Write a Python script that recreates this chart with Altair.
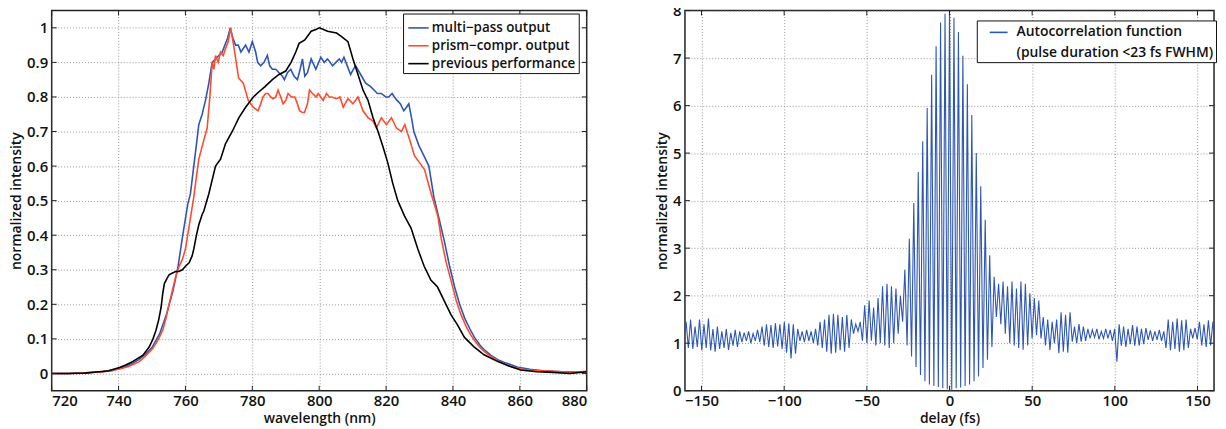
import altair as alt
import pandas as pd

# ---------------- left panel: spectra ----------------
series_names = ["multi−pass output", "prism−compr. output", "previous performance"]
series_colors = ["#2d56b5", "#ff4b2f", "#000000"]

blue_wl = [720, 725, 730, 735, 738, 740.3, 742, 744.3, 746, 748.3, 750, 752.3, 754.3, 756.3, 757.8,
           759.2, 760.7, 761.5, 762.5, 764, 765, 766, 767, 768, 769, 770, 771, 771.8, 772.6, 773.4,
           774.2, 775, 775.8, 776.6, 777.3, 778, 779, 780, 781, 781.6, 782.5, 783.5, 784.5, 785.2,
           786, 787, 788, 789, 789.6, 790.5, 791.5, 792.5, 793.5, 794.3, 795, 795.7, 796.5, 797.6,
           799, 800.5, 801.5, 802.5, 803.3, 804, 805, 806, 806.7, 807.4, 808.4, 809.4, 810.2, 810.9,
           812.4, 813.9, 815.4, 816.4, 817.4, 818.6, 819.9, 820.8, 821.8, 822.5, 823.3, 824.3, 825.3,
           826.1, 826.8, 827.6, 828.3, 829.8, 831.3, 832.8, 834.3, 835.8, 837.5, 839, 840.5, 842,
           843.5, 845, 846.4, 848, 849.4, 851.4, 853.4, 855.4, 857.4, 859.4, 861.3, 863, 865, 867,
           870, 873, 876, 880]
blue_val = [0.0, 0.0, 0.002, 0.005, 0.008, 0.015, 0.02, 0.03, 0.04, 0.058, 0.075, 0.115, 0.17, 0.24, 0.31,
            0.40, 0.49, 0.52, 0.60, 0.72, 0.75, 0.79, 0.84, 0.90, 0.91, 0.92, 0.93, 0.95, 0.97, 1.0,
            0.97, 0.95, 0.95, 0.93, 0.94, 0.95, 0.93, 0.96, 0.93, 0.90, 0.89, 0.90, 0.92, 0.89,
            0.88, 0.88, 0.87, 0.86, 0.85, 0.87, 0.88, 0.86, 0.85, 0.88, 0.91, 0.86, 0.87, 0.91,
            0.88, 0.915, 0.90, 0.91, 0.90, 0.89, 0.90, 0.91, 0.90, 0.915, 0.89, 0.865, 0.88, 0.89,
            0.865, 0.84, 0.83, 0.82, 0.81, 0.81, 0.80, 0.80, 0.81, 0.80, 0.79, 0.78, 0.76,
            0.77, 0.78, 0.74, 0.70, 0.66, 0.63, 0.60, 0.51, 0.45, 0.38, 0.31, 0.25, 0.20,
            0.16, 0.13, 0.105, 0.083, 0.068, 0.052, 0.04, 0.032, 0.025, 0.018, 0.015, 0.012, 0.01, 0.008,
            0.006, 0.005, 0.004, 0.005]

red_wl = [720, 725, 730, 735, 740.3, 743, 746.2, 748, 750.2, 752, 753.2, 754.2, 755.1, 756.1, 757.1,
          758.1, 759.1, 760, 761, 761.5, 762.5, 763.3, 764, 765.5, 766.5, 767.3, 768, 768.5, 769,
          769.8, 770.5, 771.3, 772, 772.8, 773.5, 774.4, 775.2, 775.9, 777.3, 778.8, 780.3, 781.7,
          782.5, 783.2, 784, 784.7, 785.5, 786.2, 787, 787.7, 788.5, 789.2, 790, 790.7, 791.7,
          792.7, 793.5, 794.1, 795, 795.6, 796.5, 797.1, 798, 799.1, 799.7, 801.2, 802.2, 803,
          803.7, 805.2, 806.2, 807.2, 808.6, 810.1, 811.6, 813.1, 814.6, 816.1, 817.1, 818.6,
          820.1, 821.6, 823.1, 824.6, 825.6, 827.1, 828.5, 830, 831.5, 833.5, 835.5, 836.5, 838,
          839.4, 841, 842.4, 844, 845.4, 847, 848.4, 850.4, 852.4, 854.4, 856.3, 858.3, 860.3,
          863, 866, 870, 874, 877, 880]
red_val = [0.0, 0.0, 0.002, 0.004, 0.013, 0.02, 0.034, 0.05, 0.072, 0.10, 0.125, 0.16, 0.20, 0.24, 0.28,
           0.31, 0.33, 0.36, 0.42, 0.45, 0.51, 0.57, 0.62, 0.675, 0.71, 0.80, 0.90, 0.88, 0.92,
           0.90, 0.93, 0.92, 0.94, 0.96, 1.0, 0.95, 0.90, 0.855, 0.84, 0.79, 0.77, 0.76,
           0.78, 0.80, 0.81, 0.81, 0.80, 0.795, 0.80, 0.82, 0.80, 0.78, 0.79, 0.81, 0.80,
           0.80, 0.78, 0.76, 0.755, 0.755, 0.78, 0.82, 0.81, 0.80, 0.81, 0.79, 0.81, 0.80,
           0.80, 0.795, 0.80, 0.77, 0.795, 0.78, 0.80, 0.76, 0.74, 0.73, 0.71, 0.74,
           0.72, 0.74, 0.71, 0.70, 0.72, 0.675, 0.63, 0.61, 0.59, 0.52, 0.455, 0.39, 0.32,
           0.27, 0.21, 0.17, 0.135, 0.11, 0.088, 0.072, 0.055, 0.043, 0.032, 0.023, 0.017, 0.013,
           0.01, 0.008, 0.006, 0.004, 0.003, 0.006]

black_wl = [720, 725, 730, 734.3, 737, 740.3, 742.3, 744.3, 746, 747.3, 749.2, 750.3, 751.2, 752, 752.7,
            753.2, 753.7, 754.5, 755.1, 756, 757.1, 758, 759.1, 760, 761.1, 762, 762.5, 763.3, 764,
            765, 765.5, 767, 768, 769, 770.5, 772, 774, 776, 778, 780.3, 782, 783.8, 786, 788, 790,
            791.6, 793, 794, 795.7, 797.6, 799, 800.1, 802.5, 805.2, 806.6, 808.6, 810.1, 811.6,
            813.1, 814.6, 816.1, 817.6, 819.1, 820.5, 822, 823.5, 825.5, 827.5, 829.5, 831.4, 833.4,
            835.4, 837.4, 839.4, 841.4, 843.4, 846.3, 849.3, 853.3, 857.2, 860.2, 865, 870, 875, 880]
black_val = [0.0, 0.0, 0.001, 0.005, 0.008, 0.017, 0.025, 0.035, 0.045, 0.053, 0.077, 0.10, 0.125, 0.155, 0.19,
             0.23, 0.26, 0.275, 0.285, 0.29, 0.295, 0.295, 0.30, 0.31, 0.32, 0.34, 0.36, 0.40, 0.43,
             0.46, 0.47, 0.52, 0.56, 0.60, 0.62, 0.665, 0.70, 0.74, 0.77, 0.80, 0.815, 0.83, 0.85, 0.865, 0.875,
             0.90, 0.93, 0.955, 0.965, 0.99, 0.995, 1.0, 0.99, 0.985, 0.975, 0.96, 0.91, 0.865,
             0.82, 0.79, 0.74, 0.70, 0.655, 0.61, 0.55, 0.50, 0.456, 0.42, 0.36, 0.31, 0.27,
             0.25, 0.21, 0.17, 0.14, 0.105, 0.077, 0.054, 0.035, 0.02, 0.01, 0.005, 0.003, 0.0, 0.005]

wl_ticks = [720, 740, 760, 780, 800, 820, 840, 860, 880]
int_ticks = [0, 0.1, 0.2, 0.3, 0.4, 0.5, 0.6, 0.7, 0.8, 0.9, 1]

# ---------------- right panel: autocorrelation ----------------
ac_names = ["Autocorrelation function", "(pulse duration <23 fs FWHM)"]
ac_colors = ["#2d56b5", "rgba(0,0,0,0)"]

delay_fs = [
    -160.65, -159.3, -157.95, -156.6, -155.25, -153.9, -152.55, -151.2, -149.85, -148.5,
    -147.15, -145.8, -144.45, -143.1, -141.75, -140.4, -139.05, -137.7, -136.35, -135.0,
    -133.65, -132.3, -130.95, -129.6, -128.25, -126.9, -125.55, -124.2, -122.85, -121.5,
    -120.15, -118.8, -117.45, -116.1, -114.75, -113.4, -112.05, -110.7, -109.35, -108.0,
    -106.65, -105.3, -103.95, -102.6, -101.25, -99.9, -98.55, -97.2, -95.85, -94.5,
    -93.15, -91.8, -90.45, -89.1, -87.75, -86.4, -85.05, -83.7, -82.35, -81.0,
    -79.65, -78.3, -76.95, -75.6, -74.25, -72.9, -71.55, -70.2, -68.85, -67.5,
    -66.15, -64.8, -63.45, -62.1, -60.75, -59.4, -58.05, -56.7, -55.35, -54.0,
    -52.65, -51.3, -49.95, -48.6, -47.25, -45.9, -44.55, -43.2, -41.85, -40.5,
    -39.15, -37.8, -36.45, -35.1, -33.75, -32.4, -31.05, -29.7, -28.35, -27.0,
    -25.65, -24.3, -22.95, -21.6, -20.25, -18.9, -17.55, -16.2, -14.85, -13.5,
    -12.15, -10.8, -9.45, -8.1, -6.75, -5.4, -4.05, -2.7, -1.35,
    0.0,
    1.35, 2.7, 4.05, 5.4, 6.75, 8.1, 9.45, 10.8, 12.15, 13.5,
    14.85, 16.2, 17.55, 18.9, 20.25, 21.6, 22.95, 24.3, 25.65, 27.0,
    28.35, 29.7, 31.05, 32.4, 33.75, 35.1, 36.45, 37.8, 39.15, 40.5,
    41.85, 43.2, 44.55, 45.9, 47.25, 48.6, 49.95, 51.3, 52.65, 54.0,
    55.35, 56.7, 58.05, 59.4, 60.75, 62.1, 63.45, 64.8, 66.15, 67.5,
    68.85, 70.2, 71.55, 72.9, 74.25, 75.6, 76.95, 78.3, 79.65, 81.0,
    82.35, 83.7, 85.05, 86.4, 87.75, 89.1, 90.45, 91.8, 93.15, 94.5,
    95.85, 97.2, 98.55, 99.9, 101.25, 102.6, 103.95, 105.3, 106.65, 108.0,
    109.35, 110.7, 112.05, 113.4, 114.75, 116.1, 117.45, 118.8, 120.15, 121.5,
    122.85, 124.2, 125.55, 126.9, 128.25, 129.6, 130.95, 132.3, 133.65, 135.0,
    136.35, 137.7, 139.05, 140.4, 141.75, 143.1, 144.45, 145.8, 147.15, 148.5,
    149.85, 151.2, 152.55, 153.9, 155.25, 156.6, 157.95, 159.3, 160.65,
]
ac_val = [
    0.95, 1.45, 0.9, 1.5, 0.88, 1.35, 0.92, 1.5, 0.85, 1.4,
    0.9, 1.52, 0.85, 1.3, 0.82, 1.35, 0.88, 1.25, 0.9, 1.3,
    0.86, 1.22, 0.95, 1.28, 0.92, 1.25, 1.02, 1.22, 1.05, 1.25,
    1.0, 1.2, 1.05, 1.28, 1.02, 1.35, 0.95, 1.4, 0.92, 1.38,
    0.9, 1.42, 0.93, 1.4, 0.88, 1.45, 0.8, 1.42, 0.68, 1.4,
    0.78, 1.3, 1.05, 1.25, 1.02, 1.28, 1.05, 1.25, 1.0, 1.3,
    0.95, 1.45, 0.9, 1.5, 0.82, 1.6, 0.78, 1.62, 0.8, 1.6,
    0.85, 1.55, 0.82, 1.6, 0.9, 1.5, 1.2, 1.4, 1.25, 1.45,
    1.05, 1.8, 1.0, 1.9, 1.05, 1.75, 0.95, 1.95, 1.0, 2.2,
    0.95, 2.25, 0.9, 2.2, 1.0, 2.15, 1.2, 2.0, 1.45, 2.55,
    0.95, 3.2, 0.72, 3.95, 0.5, 4.6, 0.33, 5.25, 0.2, 5.95,
    0.13, 6.65, 0.1, 7.25, 0.08, 7.75, 0.05, 7.93, 0.03,
    8.0,
    0.02, 7.85, 0.05, 7.55, 0.07, 7.05, 0.1, 6.45, 0.13, 5.8,
    0.2, 5.0, 0.3, 4.3, 0.48, 3.6, 0.65, 2.85, 0.92, 2.4,
    1.55, 2.25, 1.4, 2.3, 1.2, 2.2, 1.0, 2.3, 0.95, 2.15,
    0.9, 2.3, 0.86, 2.25, 0.95, 2.05, 1.1, 1.95, 1.17, 1.9,
    1.1, 1.55, 0.95, 1.5, 0.86, 1.45, 1.0, 1.5, 0.79, 1.65,
    0.82, 1.6, 0.8, 1.65, 1.03, 1.35, 1.0, 1.4, 1.03, 1.35,
    1.05, 1.3, 1.1, 1.28, 1.12, 1.3, 1.08, 1.25, 1.1, 1.3,
    1.1, 1.28, 1.05, 1.3, 0.61, 1.4, 0.95, 1.35, 0.92, 1.3,
    0.98, 1.38, 0.95, 1.35, 0.95, 1.3, 0.98, 1.32, 1.07, 1.27,
    1.05, 1.25, 1.07, 1.28, 1.05, 1.25, 0.9, 1.5, 0.85, 1.45,
    0.88, 1.52, 0.82, 1.48, 0.85, 1.5, 0.9, 1.3, 1.1, 1.32,
    1.08, 1.45, 0.95, 1.4, 0.92, 1.48, 0.95, 1.45, 0.9,
]

delay_ticks = [-150, -100, -50, 0, 50, 100, 150]
ac_ticks = [0, 1, 2, 3, 4, 5, 6, 7, 8]

assert len(delay_fs) == len(ac_val), (len(delay_fs), len(ac_val))

# ---------------- tables ----------------
rows = []
for name, wl, val in zip(series_names, [blue_wl, red_wl, black_wl], [blue_val, red_val, black_val]):
    for i, (w, v) in enumerate(zip(wl, val)):
        rows.append({"series": name, "wl": w, "val": v, "idx": i})
df_spec = pd.DataFrame(rows)
df_ac = pd.DataFrame({"delay": delay_fs, "val": ac_val, "series": ac_names[0],
                      "idx": list(range(len(delay_fs)))})

FONT = "Open Sans"
H = 383
W_L, W_R = 539, 533
TICK = 5
grid_kw = dict(grid=True, gridDash=[1, 2], gridColor="#8a8a8a", gridWidth=0.9, gridOpacity=1)
lab_kw = dict(labelFont=FONT, labelFontSize=15, labelFontWeight=600, labelColor="#111",
              titleFont=FONT, titleFontSize=14, titleFontWeight=600, titleColor="#111",
              domain=False, ticks=False)


def make_panel(main, xs, ys, xaxis, yaxis, xvals, yvals, W):
    xt = pd.DataFrame({"t": xvals})
    yt = pd.DataFrame({"t": yvals})
    base_x = alt.Chart(xt).mark_rule(color="#222", strokeWidth=1)
    base_y = alt.Chart(yt).mark_rule(color="#222", strokeWidth=1)
    layers = [
        base_x.encode(x=alt.X("t:Q", scale=xs, axis=xaxis), y=alt.value(0), y2=alt.value(TICK)),
        base_x.encode(x=alt.X("t:Q", scale=xs, axis=xaxis), y=alt.value(H - TICK), y2=alt.value(H)),
        base_y.encode(y=alt.Y("t:Q", scale=ys, axis=yaxis), x=alt.value(0), x2=alt.value(TICK)),
        base_y.encode(y=alt.Y("t:Q", scale=ys, axis=yaxis), x=alt.value(W - TICK), x2=alt.value(W)),
    ]
    return alt.layer(main, *layers).properties(width=W, height=H)


# left
xs_l = alt.Scale(domain=[720, 880], nice=False, zero=False)
ys_l = alt.Scale(domain=[-0.05, 1.05], nice=False, zero=False)
xax_l = alt.Axis(values=wl_ticks, title="wavelength (nm)", labelPadding=3, titlePadding=3,
                 **grid_kw, **lab_kw)
yax_l = alt.Axis(values=int_ticks, format="~g", title="normalized intensity",
                 labelPadding=4, titlePadding=3, **grid_kw, **lab_kw)
spec_lines = alt.Chart(df_spec).mark_line(strokeWidth=1.6, clip=True).encode(
    x=alt.X("wl:Q", scale=xs_l, axis=xax_l, title="wavelength (nm)"),
    y=alt.Y("val:Q", scale=ys_l, axis=yax_l, title="normalized intensity"),
    color=alt.Color("series:N", scale=alt.Scale(domain=series_names, range=series_colors),
                    legend=alt.Legend(title=None, orient="none", legendX=354, legendY=3,
                                      strokeColor="#111", fillColor="white", padding=3,
                                      symbolType="stroke", symbolSize=420, symbolStrokeWidth=1.6,
                                      symbolOffset=1,
                                      labelFont=FONT, labelFontSize=13.5, labelFontWeight=600,
                                      labelColor="#111", rowPadding=-3, labelOffset=2,
                                      labelLimit=400, cornerRadius=0)),
    order=alt.Order("idx:Q"),
)
left = make_panel(spec_lines, xs_l, ys_l, xax_l, yax_l, wl_ticks, int_ticks, W_L)

# right
xs_r = alt.Scale(domain=[-160, 160], nice=False, zero=False)
ys_r = alt.Scale(domain=[0, 8], nice=False)
xax_r = alt.Axis(values=delay_ticks, title="delay (fs)", labelPadding=3, titlePadding=3,
                 **grid_kw, **lab_kw)
yax_r = alt.Axis(values=ac_ticks, title="normalized intensity", labelPadding=4,
                 titlePadding=3, **grid_kw, **lab_kw)
ac_line = alt.Chart(df_ac).mark_line(strokeWidth=1.1, clip=True).encode(
    x=alt.X("delay:Q", scale=xs_r, axis=xax_r, title="delay (fs)"),
    y=alt.Y("val:Q", scale=ys_r, axis=yax_r, title="normalized intensity"),
    color=alt.Color("series:N", scale=alt.Scale(domain=ac_names, range=ac_colors),
                    legend=alt.Legend(title=None, orient="none", legendX=294, legendY=10,
                                      strokeColor="#111", fillColor="white", padding=2,
                                      symbolType="stroke", symbolSize=324, symbolStrokeWidth=1.6,
                                      symbolOffset=10,
                                      labelFont=FONT, labelFontSize=14, labelFontWeight=600,
                                      labelColor="#111", rowPadding=4, labelOffset=8,
                                      labelLimit=400)),
    order=alt.Order("idx:Q"),
)
right = make_panel(ac_line, xs_r, ys_r, xax_r, yax_r, delay_ticks, ac_ticks, W_R)

chart = alt.hconcat(left, right, spacing=66).resolve_scale(color="independent").properties(
    padding={"left": 0, "top": -7, "right": 0, "bottom": 0}, background="white"
).configure_view(stroke="#222", strokeWidth=1.5)

chart.save("out.html", embed_options={"renderer": "svg", "actions": False})
